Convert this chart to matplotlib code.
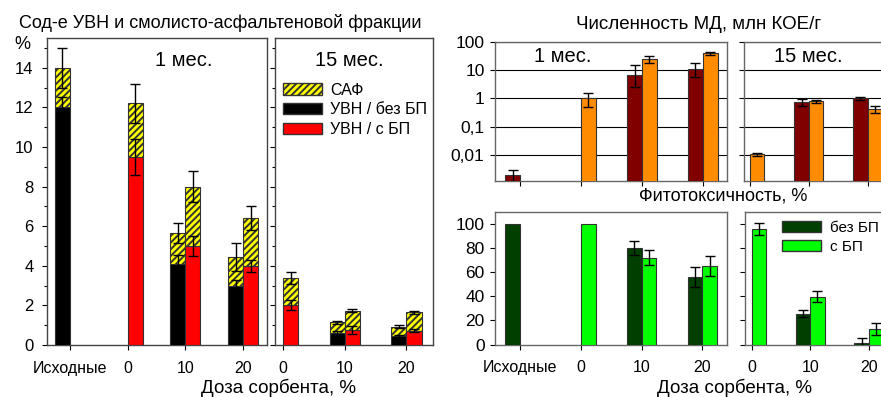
import numpy as np
import matplotlib
matplotlib.use('Agg')
import matplotlib.pyplot as plt
from matplotlib.patches import Patch
from matplotlib.ticker import FixedLocator, FixedFormatter, NullLocator, MultipleLocator

plt.rcParams['font.family'] = ['Liberation Sans', 'DejaVu Sans']
plt.rcParams['hatch.linewidth'] = 1.4

nan = np.nan

# ---- categories ----
groups_1m = ['Исходные', '0', '10', '20']
groups_15m = ['0', '10', '20']

# ---- hydrocarbon (УВН) and resin-asphaltene (САФ) content, % ----
uvn_no_bp_1m = [12.0, nan, 4.1, 3.0]
uvn_no_bp_1m_err = [0.5, nan, 0.45, 0.3]
saf_no_bp_1m = [2.0, nan, 1.55, 1.45]
tot_no_bp_1m_err = [1.0, nan, 0.5, 0.7]
uvn_bp_1m = [nan, 9.5, 5.0, 4.0]
uvn_bp_1m_err = [nan, 0.9, 0.5, 0.3]
saf_bp_1m = [nan, 2.7, 3.0, 2.4]
tot_bp_1m_err = [nan, 1.0, 0.8, 0.6]

uvn_no_bp_15m = [nan, 0.63, 0.46]
uvn_no_bp_15m_err = [nan, 0.06, 0.05]
saf_no_bp_15m = [nan, 0.52, 0.47]
tot_no_bp_15m_err = [nan, 0.08, 0.08]
uvn_bp_15m = [2.03, 0.77, 0.73]
uvn_bp_15m_err = [0.25, 0.2, 0.08]
saf_bp_15m = [1.35, 0.96, 0.93]
tot_bp_15m_err = [0.3, 0.08, 0.07]

# ---- microorganism counts (МД), mln CFU/g ----
md_no_bp_1m = [0.002, nan, 6.6, 11.0]
md_no_bp_1m_err_lo = [0.001, nan, 4.0, 5.5]
md_no_bp_1m_err_hi = [0.001, nan, 8.4, 6.0]
md_bp_1m = [nan, 1.0, 25.0, 39.0]
md_bp_1m_err_lo = [nan, 0.5, 7.0, 5.0]
md_bp_1m_err_hi = [nan, 0.5, 7.0, 5.0]
md_no_bp_15m = [nan, 0.72, 1.0]
md_no_bp_15m_err = [nan, 0.2, 0.12]
md_bp_15m = [0.0106, 0.78, 0.41]
md_bp_15m_err = [0.0015, 0.08, 0.11]

# ---- phytotoxicity, % ----
ph_no_bp_1m = [100, nan, 80, 56]
ph_no_bp_1m_err = [nan, nan, 6, 8]
ph_bp_1m = [nan, 100, 72, 65]
ph_bp_1m_err = [nan, nan, 6, 8]
ph_no_bp_15m = [nan, 25.5, 1.5]
ph_no_bp_15m_err = [nan, 3, 4]
ph_bp_15m = [96, 39.5, 13]
ph_bp_15m_err = [5, 4.5, 5]

# ---- styling ----
C_BLACK = '#000000'
C_RED = '#ff0000'
C_SAF = '#ffff00'
C_MAROON = '#800000'
C_ORANGE = '#ff8c00'
C_DKGREEN = '#003f00'
C_LTGREEN = '#00ff00'
EDGE = '#333333'
HATCH = '/////'
ERR = dict(fmt='none', ecolor='black', elinewidth=1.0, capsize=3.6, capthick=1.0, zorder=6)
TICK_FS = 12
fig = plt.figure(figsize=(8.81, 3.97), dpi=100)


def style_axes(ax, spine_color):
    for s in ax.spines.values():
        s.set_color(spine_color)
        s.set_linewidth(1.0)
    ax.tick_params(which='both', direction='out', color='black', width=0.8)
    ax.tick_params(which='major', length=3.5)
    ax.tick_params(which='minor', length=2.5)


def valid(vals):
    return ~np.isnan(np.asarray(vals, dtype=float))


def stacked(ax, xpos, base, base_err, top, tot_err, color, width):
    xpos = np.asarray(xpos, dtype=float)
    base = np.asarray(base, dtype=float)
    top = np.asarray(top, dtype=float)
    m = valid(base)
    ax.bar(xpos[m], base[m], width, color=color, edgecolor=EDGE, linewidth=0.8, zorder=3)
    ax.bar(xpos[m], top[m], width, bottom=base[m], color=C_SAF, edgecolor=EDGE,
           linewidth=0.8, hatch=HATCH, zorder=3)
    be = np.asarray(base_err, dtype=float)
    te = np.asarray(tot_err, dtype=float)
    mb = m & valid(be)
    ax.errorbar(xpos[mb], base[mb], yerr=be[mb], **ERR)
    mt = m & valid(te)
    ax.errorbar(xpos[mt], (base + top)[mt], yerr=te[mt], **ERR)


def simple(ax, xpos, vals, err_lo, err_hi, color, width):
    xpos = np.asarray(xpos, dtype=float)
    v = np.asarray(vals, dtype=float)
    m = valid(v)
    ax.bar(xpos[m], v[m], width, color=color, edgecolor=EDGE, linewidth=0.8, zorder=3)
    lo = np.asarray(err_lo, dtype=float)
    hi = np.asarray(err_hi, dtype=float)
    me = m & valid(lo)
    ax.errorbar(xpos[me], v[me], yerr=[lo[me], hi[me]], **ERR)


# ================= Left: УВН / САФ =================
axA1 = fig.add_axes([0.0530, 0.1310, 0.2500, 0.7733])
axA2 = fig.add_axes([0.3121, 0.1310, 0.1793, 0.7733])

w = 0.26
x1 = np.arange(len(groups_1m))
stacked(axA1, x1 - w / 2, uvn_no_bp_1m, uvn_no_bp_1m_err, saf_no_bp_1m, tot_no_bp_1m_err, C_BLACK, w)
stacked(axA1, x1 + w / 2, uvn_bp_1m, uvn_bp_1m_err, saf_bp_1m, tot_bp_1m_err, C_RED, w)
axA1.set_xlim(-0.4, 3.41)

w2 = 0.245
x2 = np.arange(len(groups_15m))
stacked(axA2, x2 - w2 / 2, uvn_no_bp_15m, uvn_no_bp_15m_err, saf_no_bp_15m, tot_no_bp_15m_err, C_BLACK, w2)
stacked(axA2, x2 + w2 / 2, uvn_bp_15m, uvn_bp_15m_err, saf_bp_15m, tot_bp_15m_err, C_RED, w2)
axA2.set_xlim(-0.13, 2.43)

for ax, xs, labels in ((axA1, x1, groups_1m), (axA2, x2, groups_15m)):
    style_axes(ax, '#444444')
    ax.set_ylim(0, 15.5)
    ax.yaxis.set_major_locator(MultipleLocator(2))
    ax.yaxis.set_minor_locator(MultipleLocator(1))
    ax.set_xticks(xs)
    ax.set_xticklabels(labels, fontsize=11.5)
    ax.tick_params(axis='x', pad=8)
    ax.tick_params(axis='y', labelsize=TICK_FS, pad=6)
axA2.set_yticklabels([])

axA1.text(0.623, 0.928, '1 мес.', transform=axA1.transAxes, ha='center', va='center', fontsize=14.5)
axA2.text(0.468, 0.928, '15 мес.', transform=axA2.transAxes, ha='center', va='center', fontsize=14.5)

axA2.legend(handles=[Patch(facecolor=C_SAF, edgecolor=EDGE, hatch=HATCH, label='САФ'),
                     Patch(facecolor=C_BLACK, edgecolor=EDGE, label='УВН / без БП'),
                     Patch(facecolor=C_RED, edgecolor=EDGE, label='УВН / с БП')],
            loc='upper left', bbox_to_anchor=(0.05, 0.855), frameon=False, fontsize=11.5,
            handlelength=2.45, handleheight=0.7, handletextpad=0.5, labelspacing=0.3,
            borderpad=0, borderaxespad=0)

fig.text(0.2497, 0.941, 'Сод-е УВН и смолисто-асфальтеновой фракции', ha='center', va='center', fontsize=13)
fig.text(0.025, 0.888, '%', ha='center', va='center', fontsize=13)
fig.text(0.3156, 0.022, 'Доза сорбента, %', ha='center', va='center', fontsize=13.5)

# ================= Right top: МД counts (log) =================
axB1 = fig.add_axes([0.5619, 0.5441, 0.2637, 0.3509])
axB2 = fig.add_axes([0.8445, 0.5441, 0.1770, 0.3509])

wb = 0.245
simple(axB1, x1 - wb / 2, md_no_bp_1m, md_no_bp_1m_err_lo, md_no_bp_1m_err_hi, C_MAROON, wb)
simple(axB1, x1 + wb / 2, md_bp_1m, md_bp_1m_err_lo, md_bp_1m_err_hi, C_ORANGE, wb)
axB1.set_xlim(-0.41, 3.40)

simple(axB2, x2 - wb / 2, md_no_bp_15m, md_no_bp_15m_err, md_no_bp_15m_err, C_MAROON, wb)
simple(axB2, x2 + wb / 2, md_bp_15m, md_bp_15m_err, md_bp_15m_err, C_ORANGE, wb)
axB2.set_xlim(-0.1, 2.55)

decades = [0.01, 0.1, 1, 10, 100]
decade_labels = ['0,01', '0,1', '1', '10', '100']
for ax, xs in ((axB1, x1), (axB2, x2)):
    ax.set_yscale('log')
    ax.set_ylim(0.0012, 100)
    style_axes(ax, '#666666')
    ax.yaxis.set_major_locator(FixedLocator(decades))
    ax.yaxis.set_minor_locator(NullLocator())
    ax.set_xticks(xs)
    ax.set_xticklabels([])
    ax.grid(axis='y', which='major', color='black', linewidth=0.8)
    ax.set_axisbelow(True)
    ax.tick_params(axis='y', labelsize=12.5, pad=4)
axB1.yaxis.set_major_formatter(FixedFormatter(decade_labels))
axB2.set_yticklabels([])

axB1.text(0.29, 0.894, '1 мес.', transform=axB1.transAxes, ha='center', va='center', fontsize=14.5)
axB2.text(0.41, 0.894, '15 мес.', transform=axB2.transAxes, ha='center', va='center', fontsize=14.5)

fig.text(0.7934, 0.939, 'Численность МД, млн КОЕ/г', ha='center', va='center', fontsize=13.5)

# ================= Right bottom: phytotoxicity =================
axC1 = fig.add_axes([0.5619, 0.1322, 0.2630, 0.3345])
axC2 = fig.add_axes([0.8456, 0.1322, 0.1770, 0.3345])

simple(axC1, x1 - wb / 2, ph_no_bp_1m, ph_no_bp_1m_err, ph_no_bp_1m_err, C_DKGREEN, wb)
simple(axC1, x1 + wb / 2, ph_bp_1m, ph_bp_1m_err, ph_bp_1m_err, C_LTGREEN, wb)
axC1.set_xlim(-0.41, 3.40)

simple(axC2, x2 - wb / 2, ph_no_bp_15m, ph_no_bp_15m_err, ph_no_bp_15m_err, C_DKGREEN, wb)
simple(axC2, x2 + wb / 2, ph_bp_15m, ph_bp_15m_err, ph_bp_15m_err, C_LTGREEN, wb)
axC2.set_xlim(-0.115, 2.55)

for ax, xs, labels in ((axC1, x1, groups_1m), (axC2, x2, groups_15m)):
    style_axes(ax, '#666666')
    ax.set_ylim(0, 110)
    ax.yaxis.set_major_locator(FixedLocator([0, 20, 40, 60, 80, 100]))
    ax.set_xticks(xs)
    ax.set_xticklabels(labels, fontsize=11.5)
    ax.tick_params(axis='x', pad=8)
    ax.tick_params(axis='y', labelsize=12.5, pad=4)
axC2.set_yticklabels([])

axC2.legend(handles=[Patch(facecolor=C_DKGREEN, edgecolor=EDGE, label='без БП'),
                     Patch(facecolor=C_LTGREEN, edgecolor=EDGE, label='с БП')],
            loc='upper left', bbox_to_anchor=(0.235, 0.93), frameon=False, fontsize=11,
            handlelength=2.6, handleheight=0.7, handletextpad=0.55, labelspacing=0.3,
            borderpad=0, borderaxespad=0)

fig.text(0.8207, 0.506, 'Фитотоксичность, %', ha='center', va='center', fontsize=13)
fig.text(0.8337, 0.024, 'Доза сорбента, %', ha='center', va='center', fontsize=13.5)

fig.savefig('out.png', dpi=100)
